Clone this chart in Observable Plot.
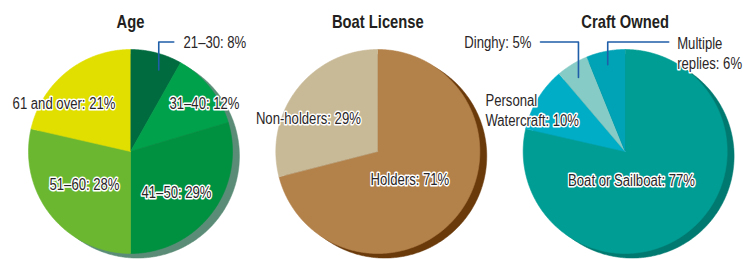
<!DOCTYPE html>
<html>
<head>
<meta charset="utf-8">
<script src="https://cdn.jsdelivr.net/npm/d3@7"></script>
<script src="https://cdn.jsdelivr.net/npm/@observablehq/plot@0.6"></script>
<style>
  html, body { margin: 0; padding: 0; background: #fff; }
  #chart svg { display: block; }
</style>
</head>
<body>
<div id="chart"></div>
<script>
// ---- data ----
const charts = ["Age", "Boat License", "Craft Owned"];

const ageCategories = ["21–30", "31–40", "41–50", "51–60", "61 and over"];
const ageValues = [8, 12, 29, 28, 21];

const licenseCategories = ["Holders", "Non-holders"];
const licenseValues = [71, 29];

const craftCategories = ["Boat or Sailboat", "Personal Watercraft", "Dinghy", "Multiple replies"];
const craftValues = [77, 10, 5, 6];

// ---- styles ----
const ageColors = ["#006b3f", "#00a14b", "#009140", "#6bb830", "#e0df00"];
const licenseColors = ["#b3814a", "#c8b997"];
const craftColors = ["#009d94", "#00adc6", "#86cbc6", "#00a3b6"];
const shadowColors = {"Age": "#5a8c77", "Boat License": "#6a3a0b", "Craft Owned": "#007a71"};

// label layout (pie units, relative to each pie centre; y up)
const labelLayout = {
  "21–30":               {x: 0.52,  y: 1.074, anchor: "start", text: "21–30: 8%"},
  "31–40":               {x: 0.725, y: 0.483, anchor: "middle"},
  "41–50":               {x: 0.451, y: -0.389, anchor: "middle"},
  "51–60":               {x: -0.451, y: -0.311, anchor: "middle"},
  "61 and over":         {x: -0.652, y: 0.483, anchor: "middle"},
  "Holders":             {x: 0.314, y: -0.268, anchor: "middle"},
  "Non-holders":         {x: -0.681, y: 0.330, anchor: "middle"},
  "Boat or Sailboat":    {x: 0.062, y: -0.277, anchor: "middle"},
  "Personal Watercraft": {x: -1.370, y: 0.412, anchor: "start", text: "Personal\nWatercraft: 10%"},
  "Dinghy":              {x: -0.919, y: 1.074, anchor: "end"},
  "Multiple replies":    {x: 0.510, y: 0.974, anchor: "start", text: "Multiple\nreplies: 6%"}
};
// leader lines (pie units)
const leaders = [
  {chart: "Age", key: "21–30", pts: [[0.277, 0.80], [0.277, 1.074], [0.424, 1.074]]},
  {chart: "Craft Owned", key: "Dinghy", pts: [[-0.830, 1.074], [-0.458, 1.074], [-0.458, 0.725]]},
  {chart: "Craft Owned", key: "Multiple replies", pts: [[-0.171, 0.85], [-0.171, 1.074], [0.427, 1.074]]}
];
const shadowOffset = {dx: 0.068, dy: -0.045};

// ---- build geometry from data ----
const groups = [
  {chart: "Age", cats: ageCategories, vals: ageValues, colors: ageColors},
  {chart: "Boat License", cats: licenseCategories, vals: licenseValues, colors: licenseColors},
  {chart: "Craft Owned", cats: craftCategories, vals: craftValues, colors: craftColors}
];
const pie = d3.pie().sort(null).value(d => d.value);
const slicePts = [];
const shadowPts = [];
const labels = [];
const step = Math.PI / 360;
for (const g of groups) {
  const rows = g.cats.map((c, i) => ({cat: c, value: g.vals[i], color: g.colors[i]}));
  for (const a of pie(rows)) {
    const id = g.chart + "|" + a.data.cat;
    slicePts.push({chart: g.chart, id, color: a.data.color, x: 0, y: 0});
    const n = Math.max(2, Math.ceil((a.endAngle - a.startAngle) / step));
    for (let k = 0; k <= n; k++) {
      const t = a.startAngle + (a.endAngle - a.startAngle) * k / n;
      slicePts.push({chart: g.chart, id, color: a.data.color, x: Math.sin(t), y: Math.cos(t)});
    }
    const L = labelLayout[a.data.cat];
    labels.push({chart: g.chart, x: L.x, y: L.y, anchor: L.anchor,
      text: L.text || `${a.data.cat}: ${a.data.value}%`});
  }
  for (let k = 0; k <= 720; k++) {
    const t = 2 * Math.PI * k / 720;
    shadowPts.push({chart: g.chart, color: shadowColors[g.chart],
      x: Math.sin(t) + shadowOffset.dx, y: Math.cos(t) + shadowOffset.dy});
  }
}
const leaderPts = leaders.flatMap(l => l.pts.map(([x, y]) => ({chart: l.chart, id: l.key, x, y})));
const titles = charts.map(c => ({chart: c, x: 0, y: 1.272, text: c}));

const font = '"Liberation Sans", Arial, sans-serif';
const textOpts = {
  fx: "chart", x: "x", y: "y", text: "text",
  fontFamily: font, fontSize: 16, fill: "#2a2627",
  stroke: "white", strokeWidth: 3, lineHeight: 1.25
};

const plot = Plot.plot({
  width: 744,
  height: 259,
  marginLeft: 2, marginRight: 0, marginTop: 0, marginBottom: 0,
  style: {background: "#fff", fontFamily: font},
  fx: {domain: charts, axis: null, paddingInner: 0, paddingOuter: 0, round: false, label: null},
  x: {domain: [-1.2549, 1.1699], axis: null},
  y: {domain: [-1.0588, 1.4804], axis: null},
  color: {type: "identity"},
  marks: [
    Plot.line(shadowPts, {fx: "chart", x: "x", y: "y", z: "chart", fill: "color", stroke: "color", strokeWidth: 0.5}),
    Plot.line(slicePts, {fx: "chart", x: "x", y: "y", z: "id", fill: "color", stroke: "color", strokeWidth: 0.6}),
    Plot.line(leaderPts, {fx: "chart", x: "x", y: "y", z: "id", stroke: "#1f5ea8", strokeWidth: 1.6}),
    ...["start", "middle", "end"].map(anchor =>
      Plot.text(labels.filter(d => d.anchor === anchor), {...textOpts, textAnchor: anchor})),
    Plot.text(titles, {fx: "chart", x: "x", y: "y", text: "text", fontFamily: font,
      fontSize: 18, fontWeight: "bold", fill: "#231f20"})
  ]
});
// condense the typeface horizontally (reference uses a narrow face)
plot.querySelectorAll("text").forEach(t => {
  const tr = t.getAttribute("transform");
  if (tr) t.setAttribute("transform", tr + " scale(0.82,1)");
});
document.getElementById("chart").appendChild(plot);
</script>
</body>
</html>
